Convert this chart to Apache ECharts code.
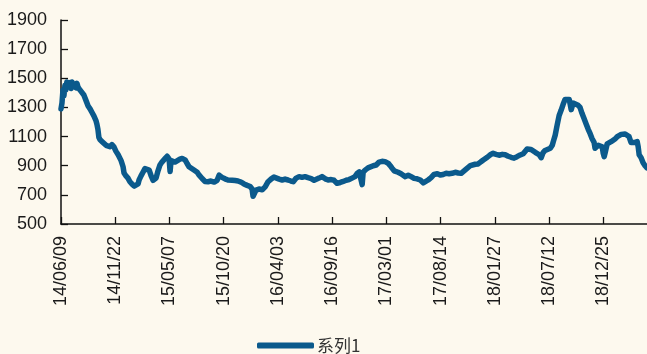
<!DOCTYPE html>
<html>
<head>
<meta charset="utf-8">
<script src="https://cdn.jsdelivr.net/npm/echarts@6/dist/echarts.min.js"></script>
<style>
  html, body { margin: 0; padding: 0; background: #FDF9EE; }
  #chart { width: 647px; height: 354px; }
</style>
</head>
<body>
<div id="chart"></div>
<script>
// Series start date; x positions are days counted from it
const startDate = '2014-06-09';
const seriesName = '系列1';
const tickEveryDays = 166;
const lastDay = 1794;
const yTicks = { min: 500, max: 1900, step: 200 };

const dayOffsets = [
  0, 3, 6, 9, 12, 15, 18, 21, 28, 31, 34, 37, 43, 46, 49, 52, 58, 64, 70, 77,
  83, 89, 95, 101, 107, 110, 113, 116, 119, 126, 132, 138, 144, 150, 156, 162, 168, 175, 184, 190,
  193, 199, 205, 211, 217, 224, 230, 236, 239, 245, 251, 257, 263, 270, 276, 282, 291, 297, 303, 309,
  319, 325, 328, 331, 334, 337, 343, 349, 355, 364, 371, 380, 386, 392, 398, 407, 417, 423, 432, 441,
  450, 459, 469, 478, 484, 487, 493, 502, 511, 524, 533, 542, 551, 560, 570, 579, 585, 588, 591, 597,
  606, 616, 625, 634, 643, 652, 658, 668, 677, 686, 695, 704, 711, 720, 729, 738, 747, 756, 766, 775,
  781, 790, 799, 809, 818, 827, 836, 845, 855, 864, 873, 882, 891, 900, 906, 913, 919, 922, 925, 931,
  940, 946, 956, 965, 974, 983, 992, 1002, 1008, 1014, 1020, 1026, 1032, 1041, 1047, 1054, 1063, 1072, 1081, 1090,
  1100, 1109, 1115, 1124, 1133, 1142, 1152, 1161, 1170, 1179, 1188, 1197, 1207, 1216, 1225, 1234, 1243, 1253, 1259, 1268,
  1277, 1286, 1295, 1305, 1314, 1323, 1332, 1341, 1351, 1360, 1369, 1378, 1387, 1396, 1406, 1415, 1421, 1427, 1433, 1439,
  1445, 1452, 1458, 1464, 1470, 1476, 1482, 1488, 1498, 1504, 1507, 1513, 1519, 1525, 1531, 1537, 1543, 1549, 1556, 1562,
  1568, 1574, 1583, 1589, 1595, 1601, 1608, 1614, 1620, 1626, 1632, 1635, 1639, 1645, 1651, 1657, 1660, 1663, 1666, 1672,
  1678, 1684, 1690, 1697, 1703, 1709, 1715, 1721, 1727, 1733, 1739, 1745, 1751, 1757, 1764, 1767, 1770, 1776, 1782, 1788,
  1794
];

const values = [
  1290, 1330, 1420, 1380, 1450, 1420, 1475, 1440, 1470, 1430, 1475, 1450, 1460, 1435, 1465, 1440, 1420, 1420, 1385, 1345,
  1310, 1290, 1265, 1240, 1210, 1185, 1150, 1095, 1080, 1065, 1060, 1040, 1050, 1030, 1045, 1030, 1000, 975, 935, 893,
  850, 830, 815, 790, 775, 760, 755, 775, 802, 830, 855, 880, 890, 870, 830, 800, 815, 865, 905, 925,
  950, 965, 973, 945, 860, 935, 928, 925, 935, 945, 950, 940, 915, 893, 882, 870, 855, 835, 812, 792,
  790, 795, 788, 800, 835, 848, 820, 810, 802, 800, 798, 795, 788, 775, 765, 757, 740, 690, 700, 733,
  740, 735, 755, 790, 808, 822, 815, 808, 802, 808, 802, 795, 790, 815, 825, 820, 825, 818, 812, 800,
  792, 815, 825, 810, 802, 805, 800, 779, 785, 792, 800, 805, 815, 825, 845, 858, 860, 770, 855, 870,
  885, 893, 900, 905, 925, 930, 928, 916, 900, 882, 865, 858, 855, 845, 835, 825, 835, 825, 813, 810,
  802, 782, 790, 802, 818, 840, 845, 836, 840, 848, 845, 848, 855, 850, 848, 865, 882, 900, 912, 910,
  912, 928, 942, 958, 975, 985, 978, 972, 978, 975, 965, 958, 952, 962, 974, 982, 990, 1015, 1018, 1012,
  1008, 992, 985, 975, 955, 990, 1005, 1010, 1020, 1040, 1065, 1110, 1180, 1245, 1280, 1320, 1355, 1360, 1355, 1285,
  1330, 1335, 1315, 1300, 1260, 1225, 1185, 1150, 1120, 1085, 1060, 1020, 1010, 1040, 1050, 1030, 985, 962, 990, 1050,
  1060, 1065, 1075, 1085, 1100, 1110, 1115, 1120, 1118, 1115, 1100, 1060, 1055, 1060, 1065, 1030, 975, 955, 920, 900,
  885
];

const startMs = Date.parse(startDate + 'T00:00:00Z');
const pad = n => (n < 10 ? '0' : '') + n;
function dayLabel(d) {
  if (d % tickEveryDays !== 0) return '';
  const dt = new Date(startMs + d * 86400000);
  return pad(dt.getUTCFullYear() % 100) + '/' + pad(dt.getUTCMonth() + 1) + '/' + pad(dt.getUTCDate());
}

const seriesData = dayOffsets.map((d, i) => [d, values[i]]);

const chart = echarts.init(document.getElementById('chart'), null, { renderer: 'canvas' });
chart.setOption({
  backgroundColor: '#FDF9EE',
  animation: false,
  textStyle: { fontFamily: 'Liberation Sans, Arial, sans-serif' },
  grid: { left: 61, right: 0, top: 20, bottom: 130, containLabel: false },
  legend: {
    data: [seriesName],
    left: 252,
    top: 332,
    icon: 'roundRect',
    itemWidth: 57,
    itemHeight: 6,
    itemGap: 6,
    textStyle: { fontFamily: 'Noto Sans CJK SC, sans-serif', fontSize: 17, color: '#333333', padding: [0, 0, 0, -2] }
  },
  xAxis: {
    type: 'value',
    min: 0,
    max: lastDay,
    interval: tickEveryDays,
    splitLine: { show: false },
    axisLine: { lineStyle: { color: '#111111', width: 1.5 } },
    axisTick: { inside: true, length: 7, lineStyle: { color: '#111111', width: 1.3 } },
    axisLabel: {
      rotate: 90,
      margin: 12,
      fontSize: 18,
      color: '#1a1a1a',
      showMaxLabel: false,
      formatter: v => dayLabel(Math.round(v))
    }
  },
  yAxis: {
    type: 'value',
    min: yTicks.min,
    max: yTicks.max,
    interval: yTicks.step,
    splitLine: { show: false },
    axisLine: { show: true, lineStyle: { color: '#111111', width: 1.5 } },
    axisTick: { show: true, inside: true, length: 7, lineStyle: { color: '#111111', width: 1.3 } },
    axisLabel: { fontSize: 18, color: '#1a1a1a', margin: 14, formatter: v => String(v) }
  },
  series: [{
    name: seriesName,
    type: 'line',
    data: seriesData,
    showSymbol: false,
    symbol: 'none',
    color: '#0B5A8C',
    lineStyle: { width: 5.5, color: '#0B5A8C', cap: 'round', join: 'round' }
  }]
});
</script>
</body>
</html>
